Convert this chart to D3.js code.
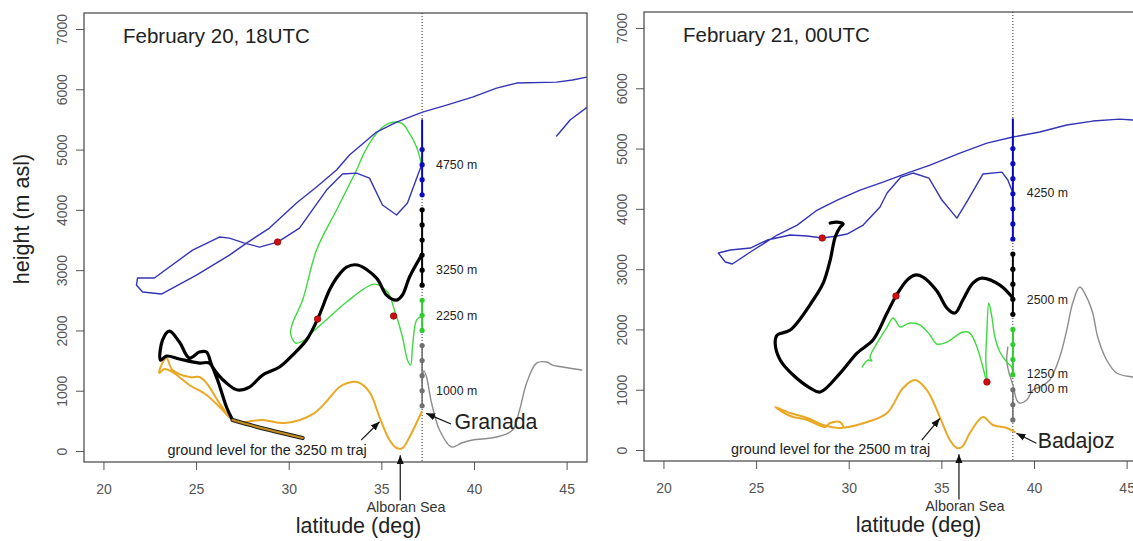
<!DOCTYPE html>
<html>
<head>
<meta charset="utf-8">
<script src="https://cdn.jsdelivr.net/npm/d3@7"></script>
<style>
  body { margin: 0; background: #fff; }
  text { font-family: "Liberation Sans", Arial, sans-serif; }
</style>
</head>
<body>
<div id="chart"></div>
<script>
// ---- Data (latitude deg, height m asl) ----
var xTicks = [20, 25, 30, 35, 40, 45];
var yTicks = [0, 1000, 2000, 3000, 4000, 5000, 6000, 7000];

// Feb 20, 18UTC  (Granada, 37.2N)
var blue20 = [[46.08,6202],[45.32,6153],[44.46,6119],[42.3,6103],[41.22,6020],[39.92,5871],[38.52,5738],[37.22,5622],[35.82,5456],[34.74,5290],[33.28,4909],[32.58,4660],[31.5,4378],[30.42,4113],[28.96,3698],[27.72,3449],[26.8,3250],[25.02,2919],[23.13,2604],[22.11,2637],[21.78,2753],[21.84,2869],[22.75,2869],[24.81,3333],[26.26,3549],[26.8,3532],[27.61,3449],[28.42,3383],[29.4,3466],[30.58,3698],[32.04,4328],[32.9,4594],[33.66,4610],[34.36,4527],[35.06,4080],[35.82,3914],[36.41,4113],[37.17,4743]];
var blue20b = [[44.46,5224],[45.2,5495],[46.1,5700]];
var green20 = [[37.17,4743],[36.9,5041],[36.41,5323],[36.09,5439],[35.44,5439],[34.9,5323],[34.15,4992],[33.66,4660],[32.58,3997],[31.5,3333],[30.75,2504],[30.21,2123],[30.1,1957],[30.37,1791],[30.85,1841],[31.29,1973],[32.2,2222],[33.12,2471],[34.63,2769],[35.33,2637],[35.71,2338],[36.14,1891],[36.41,1509],[36.58,1426],[36.68,1725],[36.9,2172],[37.17,2239]];
var black20 = [[37.17,3250],[36.52,2886],[36.14,2587],[35.82,2504],[35.28,2587],[34.74,2869],[33.71,3085],[33.12,3051],[32.58,2869],[32.2,2670],[31.56,2189],[30.96,1841],[30.21,1592],[29.5,1393],[28.59,1260],[27.88,1061],[27.24,1012],[26.64,1128],[25.89,1393],[25.56,1642],[25.18,1642],[24.64,1542],[24.1,1808],[23.56,1990],[23.19,1841],[23.08,1509],[23.4,1575],[24.1,1526],[25.18,1459],[25.72,1459],[26.1,1227],[26.64,730],[26.97,514]];
var ground20 = [[26.97,514],[27.72,448],[28.96,348],[30.75,216]];
var orange20 = [[37.17,647],[36.52,232],[36.14,50],[35.82,50],[35.44,182],[34.9,564],[34.36,978],[33.71,1144],[33.17,1128],[32.74,1061],[31.39,630],[29.77,464],[28.59,514],[27.34,481],[26.97,514],[26.26,796],[25.56,1128],[25.18,1227],[24.64,1227],[23.73,1343],[23.4,1542],[23.13,1426],[23.02,1294],[23.29,1360],[23.73,1310],[24.64,1095],[25.56,929],[26.43,680],[26.97,514],[27.72,448],[28.96,348],[30.75,216]];
var grey20 = [[37.2,1150],[37.3,1330],[37.44,1227],[37.71,796],[38.14,348],[38.79,66],[39.33,133],[39.92,182],[41.22,232],[42.08,348],[42.46,680],[42.84,1128],[43.38,1459],[43.92,1476],[44.24,1426],[44.78,1393],[45.81,1343]];
var red20 = [[29.4,3466],[31.56,2189],[35.66,2239]];
var starts20 = { grey: [750,1000,1250,1500,1750], green: [2000,2250,2500], black: [2750,3000,3250,3500,3750,4000], blue: [4250,4500,4750,5000] };
var labels20 = [["4750 m",4750],["3250 m",3000],["2250 m",2250],["1000 m",1000]];

// Feb 21, 00UTC  (Badajoz, 38.9N)
var blue21 = [[38.86,4262],[38.59,4478],[38.27,4610],[37.24,4577],[36.43,4146],[35.84,3847],[35.03,4146],[34.33,4511],[33.47,4594],[32.82,4527],[32.07,4262],[31.69,4030],[30.78,3731],[29.91,3582],[29.38,3549],[28.57,3516],[27.76,3549],[26.84,3566],[25.6,3483],[24.69,3350],[23.61,3317],[22.96,3267],[23.34,3118],[23.72,3085],[24.69,3284],[26.14,3566],[27.22,3731],[28.3,3980],[29.38,4146],[30.61,4312],[31.85,4444],[33.15,4594],[34.39,4726],[36.0,4925],[37.46,5091],[38.86,5191],[40.31,5274],[41.77,5390],[43.17,5456],[44.62,5489],[45.32,5473],[46.08,5440]];
var black21 = [[38.86,2521],[38.16,2736],[37.19,2852],[36.7,2769],[36.16,2488],[35.73,2272],[35.3,2355],[34.76,2637],[34.01,2869],[33.58,2902],[33.15,2819],[32.55,2554],[32.07,2272],[31.31,1824],[30.45,1609],[29.54,1277],[28.46,962],[27.92,1028],[27.0,1244],[26.3,1493],[26.03,1774],[26.14,1907],[26.84,1990],[28.08,2488],[28.62,2769],[29.0,3151],[29.27,3532],[29.54,3698],[29.7,3748],[29.38,3781],[29.0,3765]];
var green21 = [[30.72,1376],[31.05,1493],[31.25,1476],[31.15,1540],[31.53,1774],[32.07,2040],[32.39,2189],[32.61,2106],[32.77,2040],[33.3,2106],[33.85,2073],[34.39,1907],[34.76,1758],[35.3,1791],[36.16,1957],[36.54,1940],[36.92,1708],[37.24,1376],[37.46,1128],[37.4,1493],[37.46,1990],[37.56,2438],[37.72,2222],[37.89,1874],[38.16,1625],[38.53,1459],[38.8,1376],[38.86,1244]];
var orange21 = [[38.97,299],[38.53,365],[37.78,415],[37.24,547],[36.54,282],[36.11,50],[35.84,33],[35.46,166],[34.92,547],[34.22,995],[33.58,1161],[32.93,1028],[32.07,614],[30.99,464],[29.54,365],[28.62,415],[27.76,531],[26.84,614],[26.03,713],[26.84,564],[27.76,498],[28.73,381],[29.0,448],[29.54,464],[29.7,398]];
var grey21 = [[38.59,1708],[38.53,1493],[38.64,1294],[38.86,1078],[39.07,829],[39.23,779],[39.61,829],[39.94,995],[40.31,1045],[40.85,1161],[41.39,1542],[41.77,1990],[42.09,2438],[42.47,2703],[42.84,2537],[43.17,2272],[43.44,1874],[43.92,1493],[44.46,1277],[45.32,1211],[46.08,1194]];
var red21 = [[28.57,3516],[32.55,2554],[37.46,1128]];
var starts21 = { grey: [500,750,1000], green: [1250,1500,1750,2000], black: [2250,2500,2750,3000,3250], blue: [3500,3750,4000,4250,4500,4750,5000] };
var labels21 = [["4250 m",4260],["2500 m",2500],["1250 m",1260],["1000 m",1010]];

// ---- Layout ----
var W = 503, H = 449;
var col = { blue: '#3434b8', green: '#3fd93f', black: '#000', orange: '#e9a826', grey: '#8c8c8c' };
var dotCol = { blue: '#0a0ac0', green: '#2ecc2e', black: '#000', grey: '#707070' };

var svg = d3.select('#chart').append('svg')
    .attr('width', 1133).attr('height', 541);

svg.append('defs').append('marker')
    .attr('id', 'ah').attr('viewBox', '0 0 10 10')
    .attr('refX', 10).attr('refY', 5)
    .attr('markerWidth', 9).attr('markerHeight', 9)
    .attr('markerUnits', 'userSpaceOnUse')
    .attr('orient', 'auto')
  .append('path').attr('d', 'M0,1 L10,5 L0,9 Z').attr('fill', '#111');

var panels = [
  { id: 0, left: 84, top: 13, site: 37.2, siteName: 'Granada', title: 'February 20, 18UTC',
    blue: [blue20, blue20b], green: green20, black: black20, ground: ground20, orange: orange20,
    grey: grey20, red: red20, starts: starts20, labels: labels20,
    tops: { grey: 1750, green: 2500, black: 4000, blue: 5500 },
    siteText: [38.95, 365], siteArrow: [[38.76,448],[37.42,625]],
    groundText: [23.46, 'ground level for the 3250 m traj'], groundArrow: [[33.91,182],[34.9,486]],
    alboran: 36.02, alboranText: 36.33 },
  { id: 1, left: 644, top: 12, site: 38.86, siteName: 'Badajoz', title: 'February 21, 00UTC',
    blue: [blue21], green: green21, black: black21, ground: null, orange: orange21,
    grey: grey21, red: red21, starts: starts21, labels: labels21,
    tops: { grey: 1000, green: 2000, black: 3250, blue: 5500 },
    siteText: [40.2, 33], siteArrow: [[40.13,111],[39.05,277]],
    groundText: [23.65, 'ground level for the 2500 m traj'], groundArrow: [[33.94,166],[34.92,526]],
    alboran: 35.95, alboranText: 36.27 }
];

panels.forEach(function(p) {
  var g = svg.append('g').attr('transform', 'translate(' + p.left + ',' + p.top + ')');
  var x = d3.scaleLinear().domain([18.95, 46.1]).range([0, W]);
  var y = d3.scaleLinear().domain([-182, 7265]).range([H, 0]);

  svg.select('defs').append('clipPath').attr('id', 'clip' + p.id)
    .append('rect').attr('width', W).attr('height', H);

  var line = d3.line().x(function(d) { return x(d[0]); }).y(function(d) { return y(d[1]); });
  var smooth = d3.line().curve(d3.curveCatmullRom.alpha(0.5))
      .x(function(d) { return x(d[0]); }).y(function(d) { return y(d[1]); });

  var plot = g.append('g').attr('clip-path', 'url(#clip' + p.id + ')');

  // site vertical dotted line
  plot.append('line')
      .attr('x1', x(p.site)).attr('x2', x(p.site))
      .attr('y1', 0).attr('y2', H)
      .attr('stroke', '#333').attr('stroke-width', 1)
      .attr('stroke-dasharray', '1,2');

  function path(data, c, w, curve) {
    plot.append('path').attr('d', (curve || line)(data))
      .attr('fill', 'none').attr('stroke', c).attr('stroke-width', w)
      .attr('stroke-linejoin', 'round').attr('stroke-linecap', 'round');
  }

  path(p.grey, col.grey, 1.4, smooth);
  path(p.orange, col.orange, 2, smooth);
  path(p.green, col.green, 1.4, smooth);
  p.blue.forEach(function(b) { path(b, col.blue, 1.4); });
  path(p.black, col.black, 3.2, smooth);
  if (p.ground) {
    path(p.ground, '#222', 4.2, smooth);
    path(p.ground, '#c08a1c', 2.2, smooth);
  }

  // start-level columns
  ['grey', 'green', 'black', 'blue'].forEach(function(k) {
    var lv = p.starts[k];
    plot.append('line')
      .attr('x1', x(p.site)).attr('x2', x(p.site))
      .attr('y1', y(lv[0])).attr('y2', y(p.tops[k]))
      .attr('stroke', dotCol[k]).attr('stroke-width', k === 'grey' ? 1.6 : 2);
    plot.selectAll(null).data(lv).enter().append('circle')
      .attr('cx', x(p.site)).attr('cy', function(d) { return y(d); })
      .attr('r', 2.6).attr('fill', dotCol[k]);
  });

  // red markers
  plot.selectAll(null).data(p.red).enter().append('circle')
    .attr('cx', function(d) { return x(d[0]); }).attr('cy', function(d) { return y(d[1]); })
    .attr('r', 3.3).attr('fill', '#d01010').attr('stroke', '#700').attr('stroke-width', 0.6);

  // level labels
  g.selectAll(null).data(p.labels).enter().append('text')
    .attr('x', x(p.site) + 14).attr('y', function(d) { return y(d[1]); })
    .attr('dy', '0.35em').attr('font-size', '12.3px').attr('fill', '#222')
    .text(function(d) { return d[0]; });

  // axes
  var ya = g.append('g').call(d3.axisLeft(y).tickValues(yTicks).tickSize(8).tickFormat(d3.format('d')));
  ya.select('.domain').remove();
  ya.selectAll('line').attr('stroke', '#555');
  ya.selectAll('text').attr('x', 0).attr('dy', 0)
    .attr('text-anchor', 'middle').attr('transform', 'translate(-17,0) rotate(-90)')
    .attr('font-size', '14px').attr('fill', '#555');

  var xa = g.append('g').attr('transform', 'translate(0,' + H + ')')
    .call(d3.axisBottom(x).tickValues(xTicks).tickSize(8));
  xa.select('.domain').remove();
  xa.selectAll('line').attr('stroke', '#555');
  xa.selectAll('text').attr('y', 32).attr('dy', 0)
    .attr('font-size', '14px').attr('fill', '#555');

  g.append('rect').attr('width', W).attr('height', H)
    .attr('fill', 'none').attr('stroke', '#444').attr('stroke-width', 1.2);

  // titles and annotations
  g.append('text').attr('x', 39).attr('y', 30)
    .attr('font-size', '20.5px').attr('fill', '#222').text(p.title);

  g.append('text').attr('x', x(p.siteText[0])).attr('y', y(p.siteText[1]))
    .attr('font-size', '21.3px').attr('fill', '#222').text(p.siteName);

  function arrow(a) {
    g.append('line')
      .attr('x1', x(a[0][0])).attr('y1', y(a[0][1]))
      .attr('x2', x(a[1][0])).attr('y2', y(a[1][1]))
      .attr('stroke', '#111').attr('stroke-width', 1.2)
      .attr('marker-end', 'url(#ah)');
  }
  arrow(p.siteArrow);
  arrow(p.groundArrow);
  arrow([[p.alboran, -820], [p.alboran, -70]]);

  g.append('text').attr('x', x(p.groundText[0])).attr('y', y(-66))
    .attr('font-size', '14.4px').attr('fill', '#222').text(p.groundText[1]);

  g.append('text').attr('x', x(p.alboranText)).attr('y', 499)
    .attr('text-anchor', 'middle').attr('font-size', '14.4px').attr('fill', '#333')
    .text('Alboran Sea');

  g.append('text').attr('x', 274.5).attr('y', 520)
    .attr('text-anchor', 'middle').attr('font-size', '21.5px').attr('fill', '#222')
    .text('latitude (deg)');
});

svg.append('text')
  .attr('transform', 'translate(29,219) rotate(-90)')
  .attr('text-anchor', 'middle').attr('font-size', '21.5px').attr('fill', '#222')
  .text('height (m asl)');
</script>
</body>
</html>
